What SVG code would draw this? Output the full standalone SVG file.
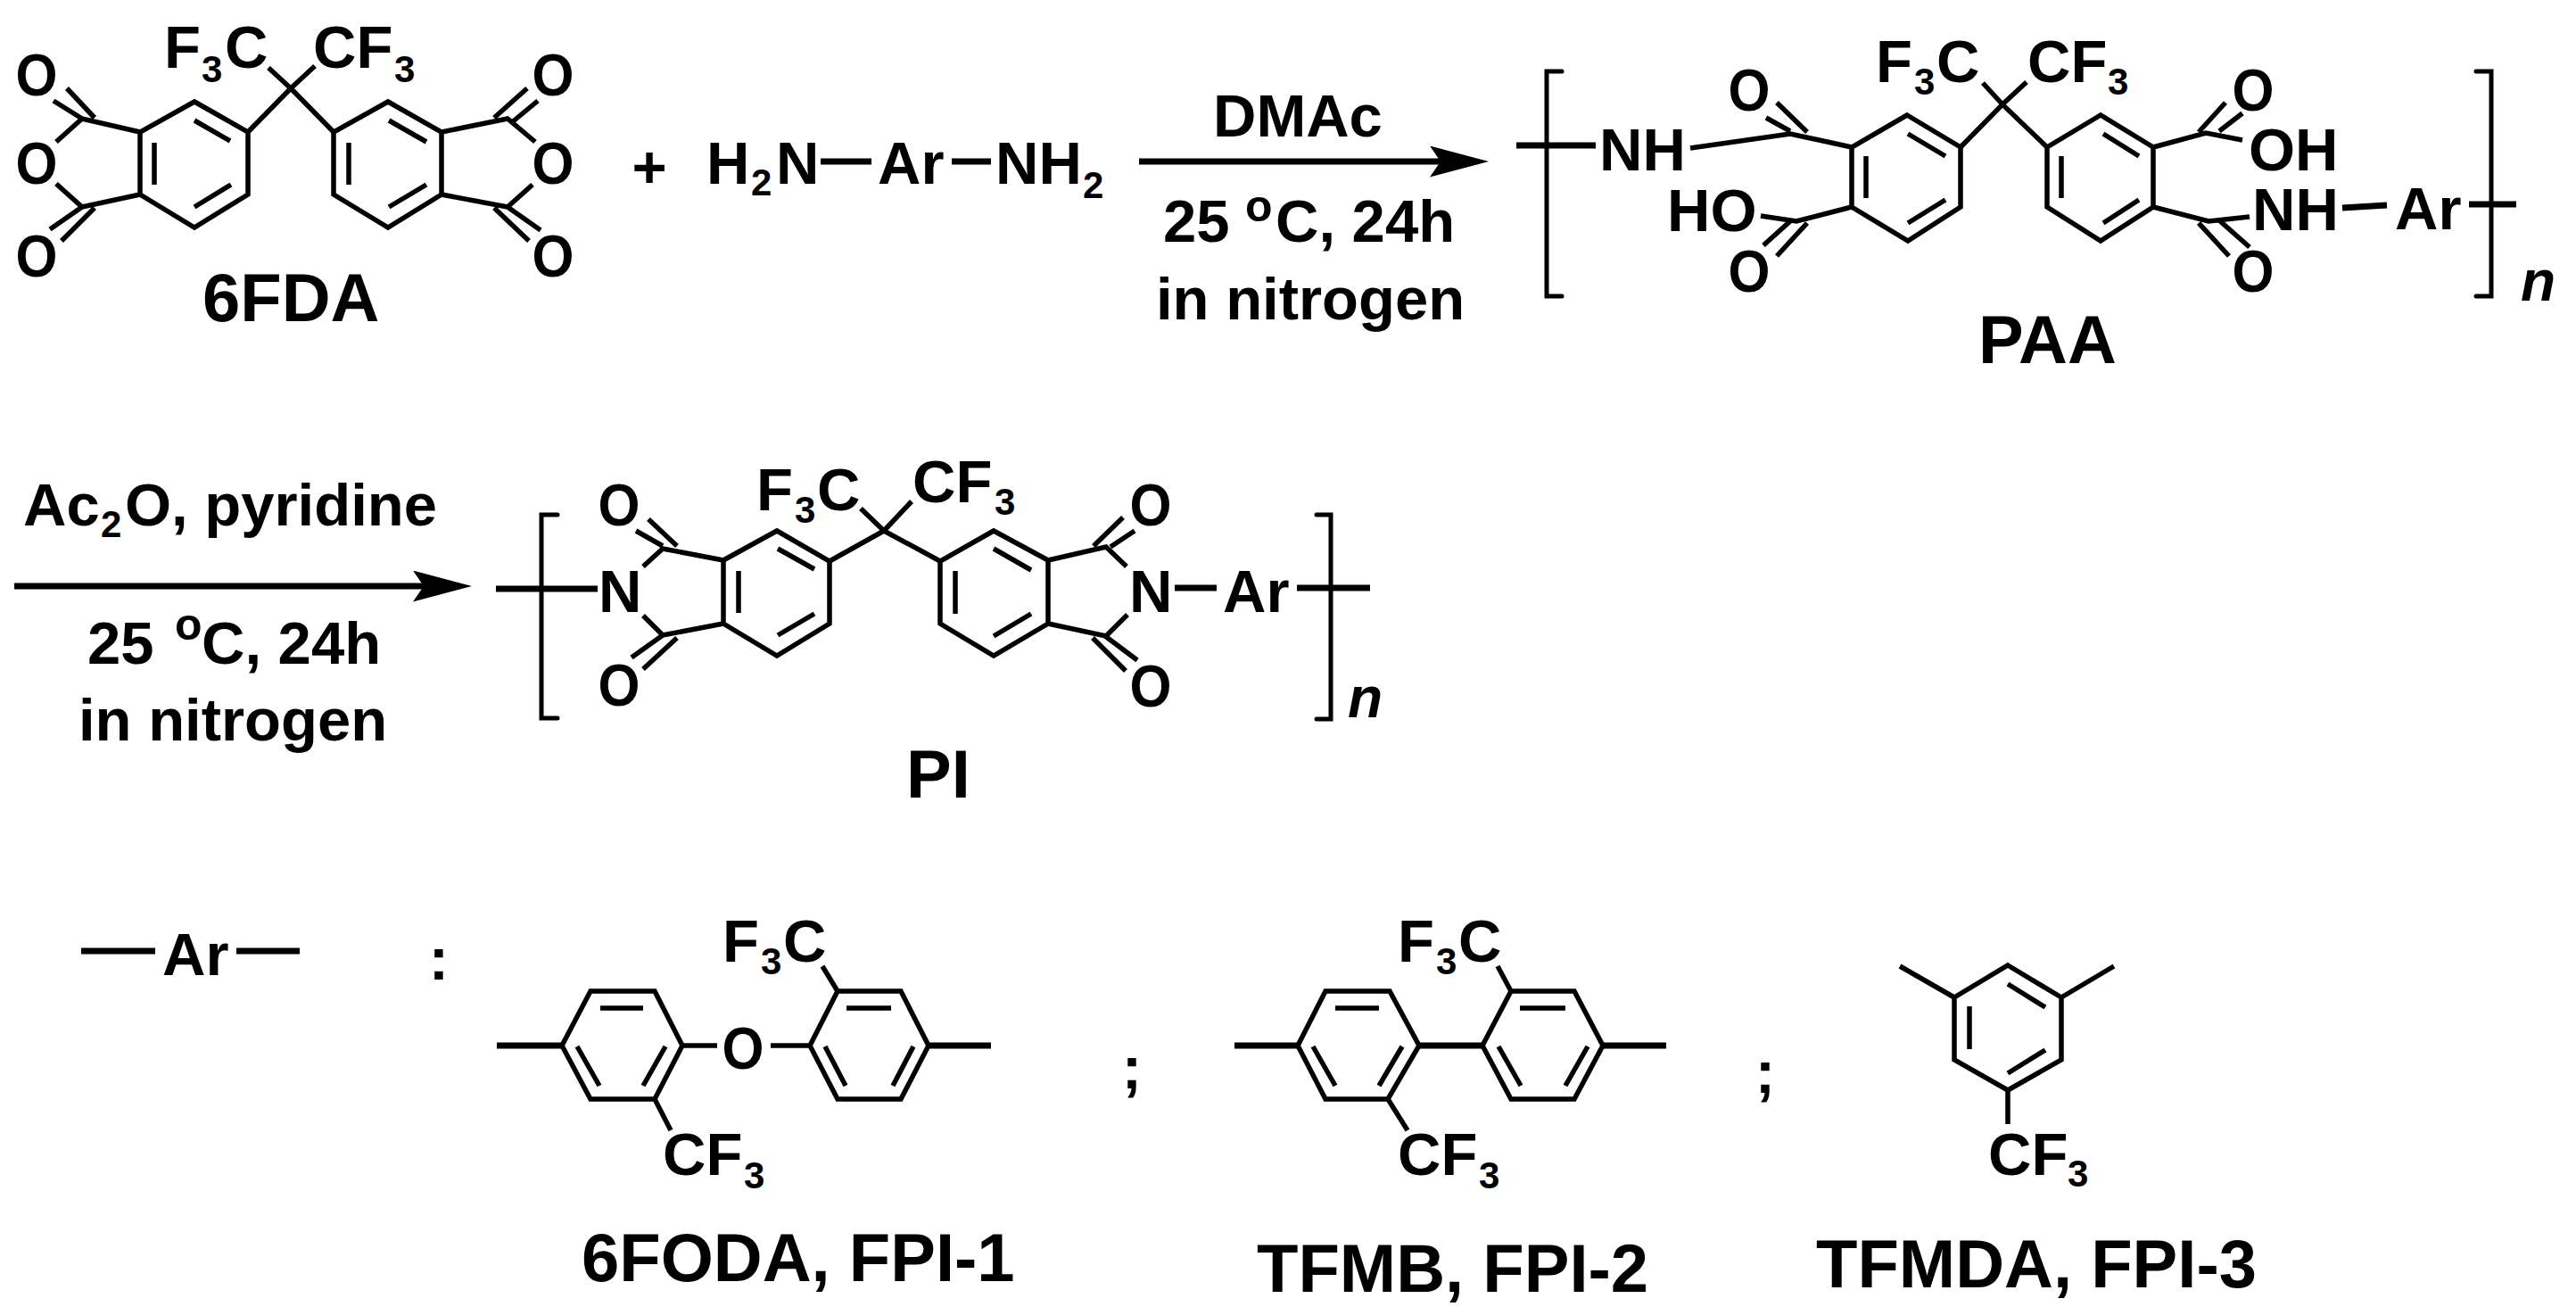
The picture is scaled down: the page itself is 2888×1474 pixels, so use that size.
<svg xmlns="http://www.w3.org/2000/svg" width="2888" height="1474" viewBox="0 0 2888 1474">
<defs>
<style>
text{font-family:"Liberation Sans",Arial,sans-serif;font-weight:700;font-size:67px;fill:#000}
.l{font-size:76px}
.s{font-size:42px}
.u{font-size:50px}
.m{text-anchor:middle}
.n{font-style:italic;font-size:64px}
.b,.r,.k{fill:none;stroke:#000;stroke-width:5.5}
.b{stroke-linecap:butt}
.r{stroke-linejoin:miter}
.k{stroke-width:5;stroke-linecap:round;stroke-linejoin:miter}
.t{fill:none;stroke:#000;stroke-width:7}
.a{fill:none;stroke:#000;stroke-width:7;marker-end:url(#head)}
</style>
<marker id="head" markerUnits="userSpaceOnUse" markerWidth="68" markerHeight="36" refX="12" refY="17.5" orient="auto" viewBox="0 0 68 36">
<path d="M0 0L66 17.5L0 35L12 17.5Z" fill="#000"/>
</marker>
</defs>
<rect width="2888" height="1474" fill="#fff"/>

<g id="connectors">
<path class="a" d="M1277 181H1615"/>
<path class="a" d="M16 657H475"/>
</g>

<g id="dmac-conditions">
<text x="1360" y="153">DMAc</text>
<text y="271"><tspan x="1304">25 </tspan><tspan class="u" x="1396" y="248">o</tspan><tspan x="1430" y="271">C, 24h</tspan></text>
<text x="1296" y="358">in nitrogen</text>
</g>

<g id="pi-conditions">
<text y="589"><tspan x="26">Ac</tspan><tspan class="s" x="113" y="602">2</tspan><tspan x="140" y="589">O, pyridine</tspan></text>
<text y="744"><tspan x="98">25 </tspan><tspan class="u" x="196" y="717">o</tspan><tspan x="226" y="744">C, 24h</tspan></text>
<text x="88" y="830">in nitrogen</text>
</g>

<g id="node-6FDA">
<path class="r" d="M218 114L278 148V218L218 255L157 218V148Z"/>
<path class="r" d="M435 114L374 148V218L435 255L495 218V148Z"/>
<path class="b" d="M218 135L258 158M173 160V207M218 232L259 207M391 160V207M436 135L478 159M436 232L478 207"/>
<path class="b" d="M278 148L326 99L374 148M326 99L301 76M326 99L353 74"/>
<path class="b" d="M157 148L92 133L63 159M157 218L92 232L63 206M75 99L106 132M60 113L92 133M106 233L69 270M92 232L56 257"/>
<path class="b" d="M495 148L569 133L600 159M495 218L569 232L597 207M554 132L591 99M574 137L603 113M554 233L593 270M569 232L606 258"/>
<text class="m" x="41" y="107" textLength="47" lengthAdjust="spacingAndGlyphs">O</text><text class="m" x="41" y="206" textLength="47" lengthAdjust="spacingAndGlyphs">O</text><text class="m" x="41" y="310" textLength="47" lengthAdjust="spacingAndGlyphs">O</text>
<text class="m" x="620" y="107" textLength="47" lengthAdjust="spacingAndGlyphs">O</text><text class="m" x="620" y="206" textLength="47" lengthAdjust="spacingAndGlyphs">O</text><text class="m" x="620" y="310" textLength="47" lengthAdjust="spacingAndGlyphs">O</text>
<text y="76"><tspan x="184">F</tspan><tspan class="s" x="226" y="92">3</tspan><tspan x="252" y="76">C</tspan></text>
<text y="76"><tspan x="351">CF</tspan><tspan class="s" x="442" y="92">3</tspan></text>
<text class="l" x="227" y="360">6FDA</text>
</g>

<g id="node-plus">
<text class="m" x="728" y="210">+</text>
</g>

<g id="node-diamine">
<path class="t" d="M920 181H977M1067 181H1111"/>
<text y="206"><tspan x="792">H</tspan><tspan class="s" x="842" y="219">2</tspan><tspan x="870" y="206">N</tspan></text>
<text x="984" y="206">Ar</text>
<text y="206"><tspan x="1116">NH</tspan><tspan class="s" x="1214" y="222">2</tspan></text>
</g>

<g id="node-PAA">
<path class="k" d="M1751 80H1734V332H1751M2776 80H2793V332H2776"/>
<path class="t" d="M1700 163H1789M2768 229H2821M2626 233L2676 230"/>
<path class="r" d="M2138 129L2198 165V232L2139 270L2076 232V165Z"/>
<path class="r" d="M2355 129L2295 165V232L2355 270L2414 232V165Z"/>
<path class="b" d="M2139 150L2181 175M2092 175V222M2139 250L2181 224M2311 175V222M2358 150L2398 175M2358 250L2398 224"/>
<path class="b" d="M2198 165L2245 117L2295 165M2245 117L2223 93M2245 117L2272 92"/>
<path class="b" d="M1895 166L2007 150L2076 165M2026 148L1992 115M2007 147L1980 132"/>
<path class="b" d="M2076 232L2014 248L1974 242M2026 250L1992 287M2007 248L1977 275"/>
<path class="b" d="M2414 165L2473 149L2514 157M2465 148L2495 115M2488 147L2514 127"/>
<path class="b" d="M2414 232L2476 248L2522 243M2465 250L2499 287M2488 247L2522 277"/>
<text class="m" x="1961" y="124" textLength="47" lengthAdjust="spacingAndGlyphs">O</text><text class="m" x="1961" y="327" textLength="47" lengthAdjust="spacingAndGlyphs">O</text>
<text class="m" x="2526" y="124" textLength="47" lengthAdjust="spacingAndGlyphs">O</text><text class="m" x="2526" y="327" textLength="47" lengthAdjust="spacingAndGlyphs">O</text>
<text x="1793" y="191">NH</text>
<text x="1869" y="259">HO</text>
<text x="2521" y="191">OH</text>
<text x="2525" y="258">NH</text>
<text x="2685" y="257">Ar</text>
<text y="92"><tspan x="2103">F</tspan><tspan class="s" x="2146" y="106">3</tspan><tspan x="2171" y="92">C</tspan></text>
<text y="92"><tspan x="2273">CF</tspan><tspan class="s" x="2363" y="106">3</tspan></text>
<text class="n" x="2826" y="337">n</text>
<text class="l" x="2218" y="407">PAA</text>
</g>

<g id="node-PI">
<path class="k" d="M625 577H607V805H625M1476 577H1492V806H1476"/>
<path class="t" d="M556 660H670M1317 659H1364M1454 659H1536"/>
<path class="r" d="M871 595L930 629V699L871 735L811 699V628Z"/>
<path class="r" d="M1114 595L1054 629V699L1114 735L1175 699V628Z"/>
<path class="b" d="M828 640V687M872 615L913 638M872 712L913 688M1071 640V688M1114 615L1156 639M1114 713L1156 688"/>
<path class="b" d="M930 629L991 595L1054 629M991 595L965 570M991 595L1022 562"/>
<path class="b" d="M721 635L743 615L811 628M721 690L743 712L811 699M759 612L727 582M743 612L713 595M759 715L721 750M743 712L708 737"/>
<path class="b" d="M1263 635L1240 613L1175 628M1264 689L1240 713L1175 699M1226 612L1259 580M1245 613L1272 595M1225 715L1262 752M1239 713L1275 740"/>
<text class="m" x="694" y="589" textLength="47" lengthAdjust="spacingAndGlyphs">O</text><text class="m" x="694" y="791" textLength="47" lengthAdjust="spacingAndGlyphs">O</text>
<text class="m" x="1290" y="589" textLength="47" lengthAdjust="spacingAndGlyphs">O</text><text class="m" x="1290" y="792" textLength="47" lengthAdjust="spacingAndGlyphs">O</text>
<text x="671" y="686">N</text>
<text x="1266" y="686">N</text>
<text x="1371" y="686">Ar</text>
<text y="572"><tspan x="848">F</tspan><tspan class="s" x="891" y="586">3</tspan><tspan x="916" y="572">C</tspan></text>
<text y="563"><tspan x="1023">CF</tspan><tspan class="s" x="1115" y="577">3</tspan></text>
<text class="n" x="1511" y="804">n</text>
<text class="l" x="1016" y="894">PI</text>
</g>

<g id="node-Ar-key">
<path class="t" d="M91 1066H174M265 1066H336"/>
<text x="182" y="1093">Ar</text>
<text class="m" x="492" y="1098">:</text>
</g>

<g id="node-6FODA">
<path class="t" d="M557 1172H630M1041 1172H1111"/>
<path class="r" d="M630 1172L662 1111H734L765 1172L734 1232H662Z"/>
<path class="r" d="M908 1172L939 1111H1010L1041 1172L1010 1232H939Z"/>
<path class="b" d="M673 1130H721M647 1173L672 1217M746 1173L721 1217M949 1130H999M925 1173L948 1217M1024 1173L1001 1217"/>
<path class="b" d="M765 1172H804M864 1172H908M922 1083L939 1111M734 1232L752 1267"/>
<text class="m" x="833" y="1198" textLength="47" lengthAdjust="spacingAndGlyphs">O</text>
<text y="1078"><tspan x="810">F</tspan><tspan class="s" x="853" y="1092">3</tspan><tspan x="878" y="1078">C</tspan></text>
<text y="1317"><tspan x="743">CF</tspan><tspan class="s" x="834" y="1332">3</tspan></text>
<text class="l" x="652" y="1436">6FODA, FPI-1</text>
<text class="m" x="1269" y="1220">;</text>
</g>

<g id="node-TFMB">
<path class="t" d="M1384 1172H1455M1797 1172H1868"/>
<path class="r" d="M1455 1172L1486 1111H1558L1591 1172L1556 1232H1486Z"/>
<path class="r" d="M1662 1172L1694 1111H1765L1797 1172L1765 1232H1694Z"/>
<path class="b" d="M1497 1130H1546M1472 1173L1497 1217M1572 1173L1546 1217M1704 1130H1755M1680 1173L1705 1217M1780 1173L1755 1217"/>
<path class="t" d="M1591 1172H1662"/>
<path class="b" d="M1679 1083L1694 1111M1556 1232L1578 1267"/>
<text y="1078"><tspan x="1567">F</tspan><tspan class="s" x="1610" y="1092">3</tspan><tspan x="1635" y="1078">C</tspan></text>
<text y="1317"><tspan x="1567">CF</tspan><tspan class="s" x="1658" y="1332">3</tspan></text>
<text class="l" x="1409" y="1448">TFMB, FPI-2</text>
<text class="m" x="1979" y="1225">;</text>
</g>

<g id="node-TFMDA">
<path class="r" d="M2251 1082L2311 1118V1188L2251 1222L2191 1188V1118Z"/>
<path class="b" d="M2208 1128V1176M2251 1103L2293 1129M2251 1203L2293 1177"/>
<path class="b" d="M2191 1118L2130 1083M2311 1118L2370 1083M2251 1222V1260"/>
<text y="1317"><tspan x="2229">CF</tspan><tspan class="s" x="2318" y="1330">3</tspan></text>
<text class="l" x="2036" y="1443">TFMDA, FPI-3</text>
</g>
</svg>
